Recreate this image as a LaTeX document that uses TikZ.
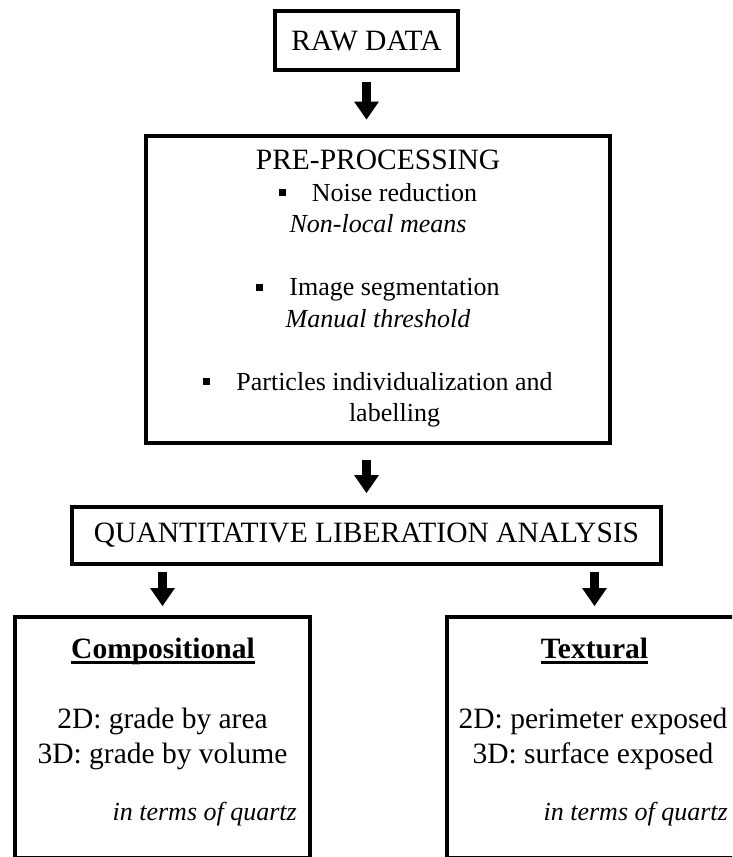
\documentclass[tikz,border=0pt]{standalone}
\usepackage{fontspec}
\setmainfont{Liberation Serif}
\usetikzlibrary{arrows.meta}
\tikzset{
    box/.style={
        draw,
        line width=4pt,
        inner sep=0pt
    },
    flowarrow/.style={
        draw,
        line width=9pt,
        -{Triangle[length=18pt, width=25pt, line width=0pt]}
    },
    heading/.style={
        inner sep=0pt,
        font=\fontsize{29.5}{34}\selectfont
    },
    note/.style={
        inner sep=0pt,
        font=\fontsize{26}{31.5}\selectfont\itshape
    }
}
\newcommand{\sqbullet}{\rule[5pt]{7pt}{7pt}\hspace{26pt}}
\newcommand{\ulhead}[1]{\setbox0\hbox{\bfseries #1}\rlap{\rule[-5.5pt]{\wd0}{2.5pt}}\box0}

\begin{document}
\begin{tikzpicture}[x=1pt, y=-1pt]
    \useasboundingbox (0,0) rectangle (732,857);
    \clip (0,0) rectangle (732,857);

    % main chain
    \node[box, heading, minimum width=183pt, minimum height=59pt] (raw) at (366.5,40.5) {RAW DATA};
    \node[box, align=center, font=\fontsize{26}{31.5}\selectfont, minimum width=464pt, minimum height=307pt] (pre) at (378,289) {{\fontsize{29.5}{31.5}\selectfont PRE-PROCESSING}\\
        \sqbullet Noise reduction\\
        \textit{Non-local means}\\[31.5pt]
        \sqbullet Image segmentation\\
        \textit{Manual threshold}\\[31.5pt]
        \sqbullet Particles individualization and\\
        \hphantom{\sqbullet}labelling};
    \node[box, heading, minimum width=589pt, minimum height=57pt] (qla) at (366.5,535) {QUANTITATIVE LIBERATION ANALYSIS};
    \node[box, minimum width=295pt, minimum height=241pt] (comp) at (162.5,737.5) {};
    \node[box, minimum width=295pt, minimum height=241pt] (tex) at (594.5,737.5) {};

    % box contents
    \node[heading, anchor=base] (compTitle) at (163,658) {\ulhead{Compositional}};
    \node[heading, anchor=base] (compArea) at (162.5,728) {2D: grade by area};
    \node[heading, anchor=base] (compVol) at (162.5,763) {3D: grade by volume};
    \node[note, anchor=base east] (compNote) at (297,820) {in terms of quartz};
    \node[heading, anchor=base] (texTitle) at (594.5,658) {\ulhead{Textural}};
    \node[heading, anchor=base] (texPer) at (593,728) {2D: perimeter exposed};
    \node[heading, anchor=base] (texSurf) at (593,763) {3D: surface exposed};
    \node[note, anchor=base east] (texNote) at (728,820) {in terms of quartz};

    \draw[flowarrow, shorten <=10pt, shorten >=14pt] (raw.south) -- (raw.south |- pre.north);
    \draw[flowarrow, shorten <=15pt, shorten >=11.5pt] (qla.north |- pre.south) -- (qla.north);
    \draw[flowarrow, shorten <=6.5pt, shorten >=9pt] (comp.north |- qla.south) -- (comp.north);
    \draw[flowarrow, shorten <=6.5pt, shorten >=9pt] (tex.north |- qla.south) -- (tex.north);
\end{tikzpicture}
\end{document}
